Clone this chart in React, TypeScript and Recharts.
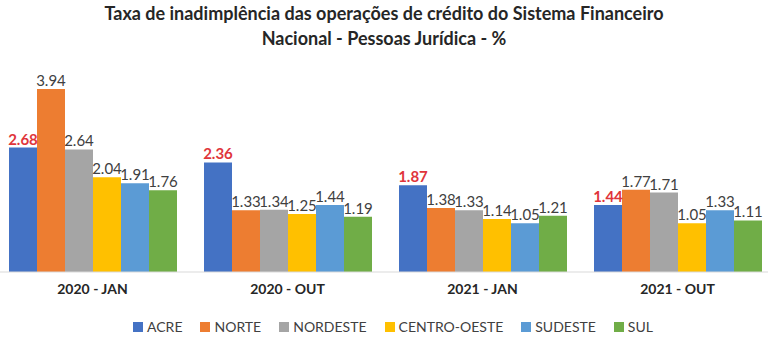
import React from 'react';
import { BarChart, Bar, XAxis, YAxis, Legend, LabelList } from 'recharts';

const periods = ['2020 - JAN', '2020 - OUT', '2021 - JAN', '2021 - OUT'];
const acre = [2.68, 2.36, 1.87, 1.44];
const norte = [3.94, 1.33, 1.38, 1.77];
const nordeste = [2.64, 1.34, 1.33, 1.71];
const centroOeste = [2.04, 1.25, 1.14, 1.05];
const sudeste = [1.91, 1.44, 1.05, 1.33];
const sul = [1.76, 1.19, 1.21, 1.11];

const series = [
  { key: 'ACRE', values: acre, color: '#4472C4' },
  { key: 'NORTE', values: norte, color: '#ED7D31' },
  { key: 'NORDESTE', values: nordeste, color: '#A5A5A5' },
  { key: 'CENTRO-OESTE', values: centroOeste, color: '#FFC000' },
  { key: 'SUDESTE', values: sudeste, color: '#5B9BD5' },
  { key: 'SUL', values: sul, color: '#70AD47' },
];

const data = periods.map((p, i) => {
  const row: any = { period: p };
  series.forEach(s => { row[s.key] = s.values[i]; });
  return row;
});

const FONT = 'Lato, "Open Sans", sans-serif';

const LegendContent = () => (
  <div style={{ display: 'flex', justifyContent: 'center', gap: 18, paddingTop: 10, paddingLeft: 16, fontFamily: FONT, fontSize: 14, color: '#404040' }}>
    {series.map(s => (
      <span key={s.key} style={{ display: 'flex', alignItems: 'center', gap: 4 }}>
        <span style={{ width: 10, height: 10, background: s.color, display: 'inline-block' }} />
        {s.key}
      </span>
    ))}
  </div>
);

const App: React.FC = () => {
  return (
    <div style={{ position: 'absolute', left: 0, top: 0, width: 768, height: 344, background: '#fff', fontFamily: FONT }}>
      <div style={{ position: 'absolute', top: 1, left: 0, width: 768, textAlign: 'center', fontSize: 18, fontWeight: 700, color: '#262626', lineHeight: '25px' }}>
        Taxa de inadimplência das operações de crédito do Sistema Financeiro<br />
        Nacional - Pessoas Jurídica - %
      </div>
      <BarChart width={768} height={344} data={data} margin={{ top: 63, right: -7, left: -5, bottom: 0 }} barGap={0} barSize={28}>
        <XAxis dataKey="period" axisLine={{ stroke: '#d9d9d9' }} tickLine={false} height={36} tickMargin={6}
          tick={{ fontSize: 14, fontWeight: 700, fill: '#262626', fontFamily: FONT }} />
        <YAxis hide domain={[0, 4.5]} />
        <Legend verticalAlign="bottom" height={36} content={<LegendContent />} />
        {series.map(s => (
          <Bar key={s.key} dataKey={s.key} fill={s.color} isAnimationActive={false}>
            <LabelList dataKey={s.key} position="top" offset={3}
              style={{ fontSize: 15, fontFamily: FONT, fill: s.key === 'ACRE' ? '#E0353B' : '#404040', fontWeight: s.key === 'ACRE' ? 700 : 400 }} />
          </Bar>
        ))}
      </BarChart>
    </div>
  );
};

export default App;
